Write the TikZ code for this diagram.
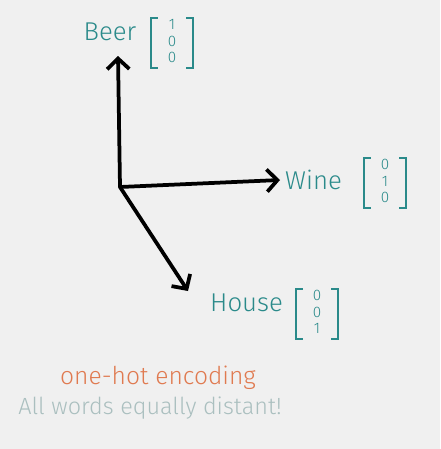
\documentclass[tikz,border=0pt]{standalone}
\usepackage{fontspec}
\setmainfont{Fira Sans Light}[BoldFont=Fira Sans]
\usepackage{tikz}
\usetikzlibrary{arrows.meta}
\definecolor{bg}{HTML}{F0F0F0}
\definecolor{tealink}{HTML}{2A8A8A}
\definecolor{orangeink}{HTML}{E07A50}
\definecolor{grayink}{HTML}{AABFBF}
\newcommand{\onehot}[3]{\begin{tabular}{c}#1\\[0pt]#2\\[0pt]#3\end{tabular}}
% square brackets round a vector node
\newcommand{\brackets}[1]{%
    \draw[tealink,line width=1.3pt] ([xshift=6pt]#1.north west) -- (#1.north west) -- (#1.south west) -- ++(6pt,0);
    \draw[tealink,line width=1.3pt] ([xshift=-6pt]#1.north east) -- (#1.north east) -- (#1.south east) -- ++(-6pt,0);}

\begin{document}
\begin{tikzpicture}[x=0.03cm,y=-0.03cm]
    \tikzstyle{axis}=[line width=3.2pt,line cap=round,line join=round,-{Straight Barb[length=9pt,width=19pt,line width=3.2pt]}]
    \tikzstyle{word}=[text=tealink,font=\fontsize{22}{24}\selectfont,inner sep=0]
    \tikzstyle{vec}=[text=tealink,font=\fontsize{13}{14}\selectfont,inner sep=0,minimum width=1.25cm,minimum height=1.5cm]
    \fill[bg] (0,0) rectangle (440,449);
    \useasboundingbox (0,0) rectangle (440,449);
    \coordinate (o) at (120,187);
    \coordinate (beer) at (118,56);
    \coordinate (wine) at (280,180);
    \coordinate (house) at (188,291);
    \draw[axis] (o) -- (beer);
    \draw[axis] (o) -- (wine);
    \draw[axis] (o) -- (house);
    \node[word] (lbeer) at (110,32) {Beer};
    \node[vec] (vbeer) at (172,43) {\onehot{1}{0}{0}};
    \brackets{vbeer}
    \node[word,anchor=west] (lwine) at (285,180) {Wine};
    \node[vec] (vwine) at (385,183) {\onehot{0}{1}{0}};
    \brackets{vwine}
    \node[word,anchor=west] (lhouse) at (210,303) {House};
    \node[vec] (vhouse) at (317,314) {\onehot{0}{0}{1}};
    \brackets{vhouse}
    \node[text=orangeink,font=\fontsize{21}{23}\selectfont,inner sep=0] (title) at (158,378) {one-hot encoding};
    \node[text=grayink,font=\fontsize{20}{22}\selectfont,inner sep=0] (note) at (150,408) {All words equally distant!};
\end{tikzpicture}
\end{document}
